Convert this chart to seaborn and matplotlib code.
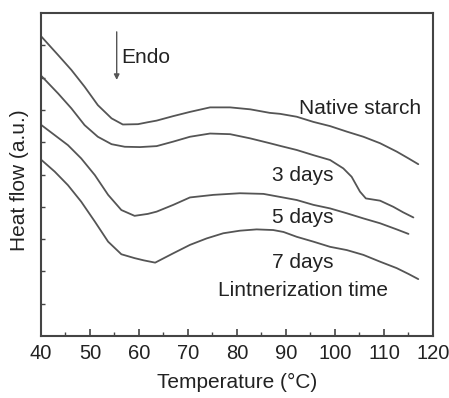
import matplotlib
matplotlib.use("Agg")
import matplotlib.pyplot as plt
import seaborn as sns
import pandas as pd
from matplotlib.ticker import MultipleLocator

sns.set_style("white")
plt.rcParams['font.family'] = ['Liberation Sans', 'DejaVu Sans']

# Data (y in arbitrary units, 0..10 axis)
temp_native = [40.1, 43.5, 46.2, 48.9, 51.6, 54.4, 56.7, 59.8, 61.8, 63.6, 67.0, 70.4,
               74.5, 78.6, 82.7, 86.7, 88.8, 92.2, 95.6, 99.0, 102.4, 105.8, 109.2,
               112.6, 115.0, 117.0]
heat_native = [9.27, 8.70, 8.24, 7.72, 7.15, 6.74, 6.55, 6.56, 6.62, 6.67, 6.81, 6.94,
               7.08, 7.08, 7.02, 6.91, 6.88, 6.79, 6.63, 6.50, 6.33, 6.17, 5.97,
               5.71, 5.50, 5.32]

temp_3d = [40.1, 43.5, 46.2, 48.9, 51.6, 54.4, 57.1, 60.2, 63.6, 67.0, 70.4, 74.5,
           78.6, 82.7, 86.7, 89.0, 92.2, 95.6, 99.0, 101.7, 103.4, 105.1, 106.3,
           109.2, 111.9, 113.9, 116.0]
heat_3d = [8.05, 7.51, 7.05, 6.53, 6.17, 5.94, 5.86, 5.85, 5.88, 6.02, 6.17, 6.27,
           6.25, 6.12, 5.97, 5.88, 5.76, 5.60, 5.45, 5.19, 4.93, 4.47, 4.26,
           4.19, 4.00, 3.83, 3.67]

temp_5d = [40.1, 42.8, 45.5, 48.2, 51.0, 53.7, 56.4, 59.1, 61.8, 63.6, 67.0, 70.4,
           75.2, 80.6, 85.4, 89.0, 92.2, 95.6, 99.0, 102.4, 105.8, 109.2, 112.6, 115.0]
heat_5d = [6.53, 6.22, 5.91, 5.50, 4.98, 4.37, 3.90, 3.72, 3.78, 3.85, 4.06, 4.29,
           4.37, 4.42, 4.40, 4.30, 4.21, 4.06, 3.95, 3.80, 3.64, 3.49, 3.30, 3.16]

temp_7d = [40.1, 42.8, 45.5, 48.2, 51.0, 53.7, 56.4, 59.1, 61.0, 63.3, 67.0, 70.4,
           73.8, 77.2, 80.6, 84.0, 87.4, 89.5, 92.2, 95.6, 99.0, 102.4, 105.8,
           109.2, 112.6, 115.0, 117.0]
heat_7d = [5.45, 5.09, 4.67, 4.16, 3.54, 2.92, 2.53, 2.41, 2.34, 2.27, 2.56, 2.82,
           3.02, 3.18, 3.26, 3.30, 3.28, 3.22, 3.07, 2.92, 2.76, 2.66, 2.51,
           2.30, 2.10, 1.92, 1.76]

series_names = ["Native starch", "3 days", "5 days", "7 days"]

frames = []
for name, t, h in zip(series_names,
                      [temp_native, temp_3d, temp_5d, temp_7d],
                      [heat_native, heat_3d, heat_5d, heat_7d]):
    frames.append(pd.DataFrame({"Temperature": t, "Heat": h, "Sample": name}))
df = pd.concat(frames, ignore_index=True)

fig = plt.figure(figsize=(4.49, 3.98), dpi=100)
ax = fig.add_axes([0.0913, 0.156, 0.8730, 0.811])

sns.lineplot(data=df, x="Temperature", y="Heat", units="Sample", estimator=None,
             sort=False, color="#555555", linewidth=1.3, ax=ax, legend=False)

ax.set_xlim(40, 120)
ax.set_ylim(0, 10)
ax.xaxis.set_major_locator(MultipleLocator(10))
ax.xaxis.set_minor_locator(MultipleLocator(5))
ax.set_yticks(list(range(1, 10)))
ax.set_yticklabels([])
ax.tick_params(axis='x', which='major', direction='in', length=5, width=1.2,
               color="#444444", labelsize=14.5, pad=6, bottom=True,
               labelcolor="#222222")
ax.tick_params(axis='x', which='minor', direction='in', length=3, width=1.0,
               color="#444444", bottom=True)
ax.tick_params(axis='y', which='major', direction='in', length=3, width=1.0,
               color="#444444", left=True)
for s in ax.spines.values():
    s.set_color("#444444")
    s.set_linewidth(1.5)

ax.set_xlabel("Temperature (°C)", fontsize=15, color="#222222", labelpad=7)
ax.set_ylabel("Heat flow (a.u.)", fontsize=15, color="#222222", va="center")
ax.yaxis.set_label_coords(-0.0536, 0.483)

tc = "#222222"
ax.annotate("", xy=(55.45, 7.93), xytext=(55.45, 9.42),
            arrowprops=dict(arrowstyle="-|>", color="#555555", lw=1.0,
                            mutation_scale=8, shrinkA=0, shrinkB=0))
ax.text(56.3, 8.62, "Endo", fontsize=15, color=tc, ha="left", va="center")
ax.text(105.2, 7.06, "Native starch", fontsize=15, color=tc, ha="center", va="center")
ax.text(93.5, 4.98, "3 days", fontsize=15, color=tc, ha="center", va="center")
ax.text(93.4, 3.68, "5 days", fontsize=15, color=tc, ha="center", va="center")
ax.text(93.4, 2.26, "7 days", fontsize=15, color=tc, ha="center", va="center")
ax.text(93.5, 1.42, "Lintnerization time", fontsize=15, color=tc, ha="center", va="center")

fig.savefig("out.png", dpi=100)
